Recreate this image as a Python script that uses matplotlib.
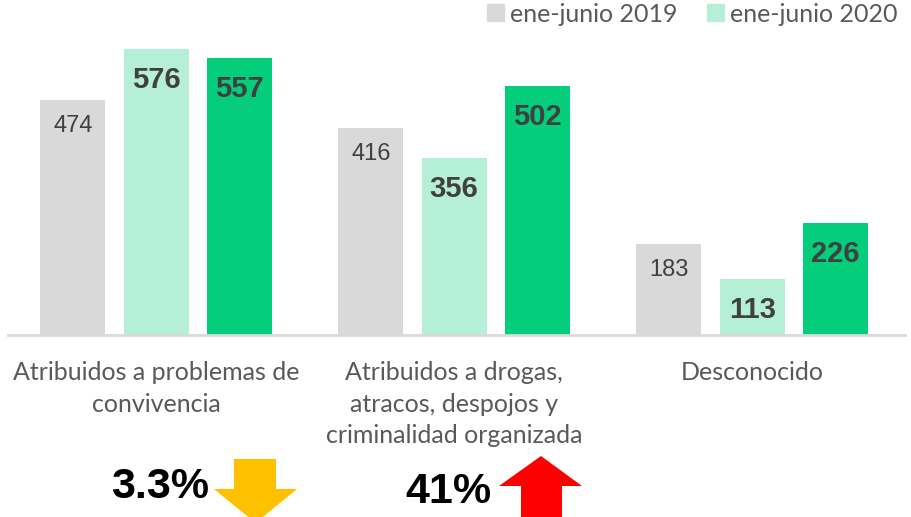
import matplotlib.pyplot as plt
import matplotlib.patches as mpatches
import numpy as np

categories = ['Atribuidos a problemas de\nconvivencia',
              'Atribuidos a drogas,\natracos, despojos y\ncriminalidad organizada',
              'Desconocido']
series_names = ['ene-junio 2019', 'ene-junio 2020', '']
values_2019 = [474, 416, 183]
values_2020 = [576, 356, 113]
values_third = [557, 502, 226]
changes = ['3.3%', '41%']

colors = ['#D9D9D9', '#B5EFD8', '#04CE7B']
W, H = 912, 517


def px(x, y):
    """Convert reference pixel coordinates into figure fractions."""
    return x / W, 1 - y / H


def draw_arrow(points, color) -> None:
    """Draw a block arrow on the figure from pixel coordinates."""
    poly = mpatches.Polygon([px(x, y) for x, y in points], closed=True,
                            transform=fig.transFigure, facecolor=color,
                            edgecolor='none', clip_on=False)
    fig.patches.append(poly)


fig = plt.figure(figsize=(W / 100, H / 100), dpi=100)
ax = fig.add_axes([8 / W, (H - 335) / H, 897 / W, 298 / H])

x = np.arange(len(categories))
step = 0.279
width = 0.218
all_values = [values_2019, values_2020, values_third]

for i, vals in enumerate(all_values):
    bars = ax.bar(x + (i - 1) * step, vals, width, color=colors[i],
                  label=series_names[i] if series_names[i] else None)
    for b, v in zip(bars, vals):
        if i == 0:
            ax.annotate(str(v), (b.get_x() + b.get_width() / 2, v),
                        xytext=(0, -26), textcoords='offset pixels',
                        ha='center', va='center', fontsize=17,
                        family='Liberation Sans', color='#404040')
        else:
            ax.annotate(str(v), (b.get_x() + b.get_width() / 2, v),
                        xytext=(0, -31), textcoords='offset pixels',
                        ha='center', va='center', fontsize=21,
                        fontweight='bold', family='Liberation Sans',
                        color='#404040')

ax.set_xlim(-0.497, 2.513)
ax.set_ylim(0, 600)
for s in ['top', 'right', 'left']:
    ax.spines[s].set_visible(False)
ax.spines['bottom'].set_color('#D9D9D9')
ax.spines['bottom'].set_linewidth(2)
ax.set_yticks([])
ax.set_xticks(x)
ax.set_xticklabels(categories, family='Lato', fontsize=18, color='#595959',
                   linespacing=1.45)
ax.tick_params(axis='x', length=0, pad=19)

handles = [mpatches.Patch(color=colors[0]), mpatches.Patch(color=colors[1])]
fig.legend(handles, series_names[:2], loc='upper right',
           bbox_to_anchor=(900 / W, 1.0), ncol=2, frameon=False,
           prop={'family': 'Lato', 'size': 18}, labelcolor='#595959',
           handlelength=0.65, handleheight=0.65, handletextpad=0.25,
           columnspacing=1.2, borderaxespad=0.0, borderpad=0.1)

# change indicators below the chart
fig.text(*px(111, 498), changes[0], fontsize=31, fontweight='bold',
         family='Liberation Sans', color='black', ha='left', va='baseline')
fig.text(*px(405, 503), changes[1], fontsize=31, fontweight='bold',
         family='Liberation Sans', color='black', ha='left', va='baseline')

draw_arrow([(234, 459), (276, 459), (276, 489), (297, 489), (255.5, 523),
            (214, 489), (234, 489)], '#FFC000')
draw_arrow([(541, 456), (582, 486), (562, 486), (562, 520), (521, 520),
            (521, 486), (499, 486)], '#FF0000')

fig.savefig('out.png', dpi=100)
